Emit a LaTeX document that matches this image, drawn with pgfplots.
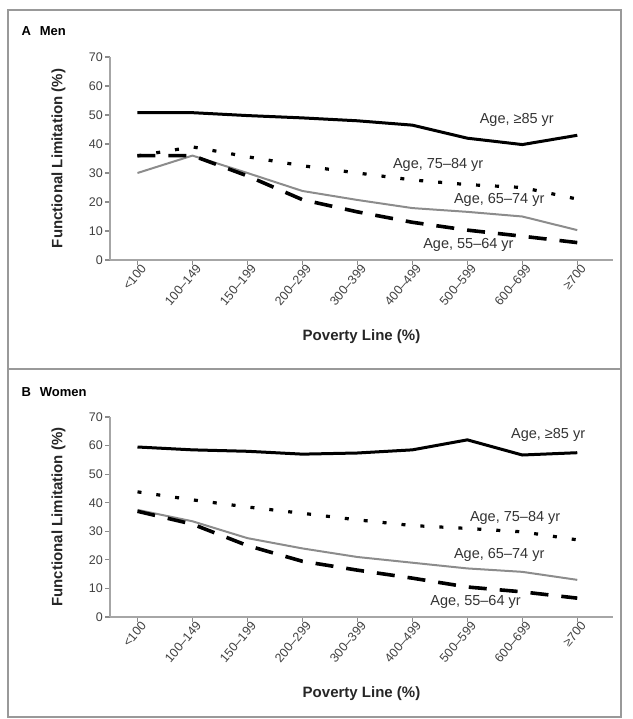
\documentclass[border=0pt]{standalone}
\usepackage{pgfplots}
\pgfplotsset{compat=1.18}
\usepackage{fontspec}
\setmainfont{Liberation Sans}

\pgfplotstableread{
x a85 a75 a65 a55
0 50.8 35.9 30.0 36.0
1 50.8 39.0 36.0 36.0
2 49.8 35.6 30.0 29.0
3 49.0 32.5 23.8 20.8
4 48.0 30.0 20.7 16.6
5 46.5 27.6 17.9 13.0
6 42.0 26.0 16.6 10.3
7 39.8 25.0 15.0 8.2
8 43.0 21.0 10.3 6.0
}\menTable

\pgfplotstableread{
x a85 a75 a65 a55
0 59.5 43.8 37.5 37.0
1 58.5 41.0 33.5 32.5
2 58.0 38.5 27.6 25.0
3 57.0 36.3 24.0 19.5
4 57.4 34.0 21.0 16.4
5 58.5 32.0 19.0 13.6
6 62.0 31.0 17.0 10.5
7 56.7 29.8 15.8 8.8
8 57.5 27.0 13.0 6.6
}\womenTable

\tikzset{
  ann/.style={font=\fontsize{14.5}{16}\selectfont, text=black!80, inner sep=0pt},
  s85/.style={black, line width=3pt},
  s75/.style={black, line width=3.2pt, dash pattern=on 4pt off 15pt},
  s65/.style={black!45, line width=2pt},
  s55/.style={black, line width=3.6pt, dash pattern=on 18pt off 13pt},
}
\pgfplotsset{
  panel/.style={
    scale only axis, width=503pt,
    xmin=-0.5, xmax=8.65, ymin=0, ymax=70,
    axis x line*=bottom, axis y line*=left,
    axis line style={black!35, line width=1.6pt},
    xtick={0,...,8},
    xticklabels={{<100},{100–149},{150–199},{200–299},{300–399},{400–499},{500–599},{600–699},{≥700}},
    ytick={0,10,...,70},
    tick align=outside, major tick length=5pt,
    tick style={black!45, line width=1.2pt},
    x tick label style={rotate=50, anchor=north east, font=\fontsize{12.5}{13}\selectfont, text=black!75, inner sep=1pt, xshift=4pt},
    y tick label style={font=\fontsize{12.5}{13}\selectfont, text=black!75, inner sep=2pt},
    /pgf/number format/assume math mode=true,
    xlabel={\textbf{Poverty Line (\%)}},
    ylabel={\textbf{Functional Limitation (\%)}},
    label style={font=\fontsize{15}{16}\selectfont, text=black!85},
    xlabel style={yshift=-18pt},
    ylabel style={yshift=18pt},
    clip=false,
  },
}

\begin{document}
\begin{tikzpicture}
\path[use as bounding box] (0,0) rectangle (632pt,719pt);
\draw[black!40, line width=1.4pt] (8pt,2pt) rectangle (621pt,709pt);
\draw[black!40, line width=2.2pt] (8pt,350pt) -- (621pt,350pt);

\node[anchor=west, font=\fontsize{13}{14}\selectfont\bfseries] at (18pt,688pt) {A\hspace{9pt}Men};
\node[anchor=west, font=\fontsize{13}{14}\selectfont\bfseries] at (18pt,327pt) {B\hspace{9pt}Women};

\begin{axis}[panel, height=203pt, at={(110pt,459pt)}, anchor=south west]
\addplot[s85] table[x=x, y=a85] {\menTable};
\addplot[s75] table[x=x, y=a75] {\menTable};
\addplot[s65] table[x=x, y=a65] {\menTable};
\addplot[s55] table[x=x, y=a55] {\menTable};
\node[ann] at (axis cs:6.9,48.3) {Age, ≥85 yr};
\node[ann] at (axis cs:5.47,32.8) {Age, 75–84 yr};
\node[ann] at (axis cs:6.58,20.7) {Age, 65–74 yr};
\node[ann] at (axis cs:6.02,5.2) {Age, 55–64 yr};
\end{axis}

\begin{axis}[panel, height=200pt, at={(110pt,102pt)}, anchor=south west]
\addplot[s85] table[x=x, y=a85] {\womenTable};
\addplot[s75] table[x=x, y=a75] {\womenTable};
\addplot[s65] table[x=x, y=a65] {\womenTable};
\addplot[s55] table[x=x, y=a55] {\womenTable};
\node[ann] at (axis cs:7.47,63.7) {Age, ≥85 yr};
\node[ann] at (axis cs:6.87,34.7) {Age, 75–84 yr};
\node[ann] at (axis cs:6.58,21.7) {Age, 65–74 yr};
\node[ann] at (axis cs:6.15,5.2) {Age, 55–64 yr};
\end{axis}
\end{tikzpicture}
\end{document}
